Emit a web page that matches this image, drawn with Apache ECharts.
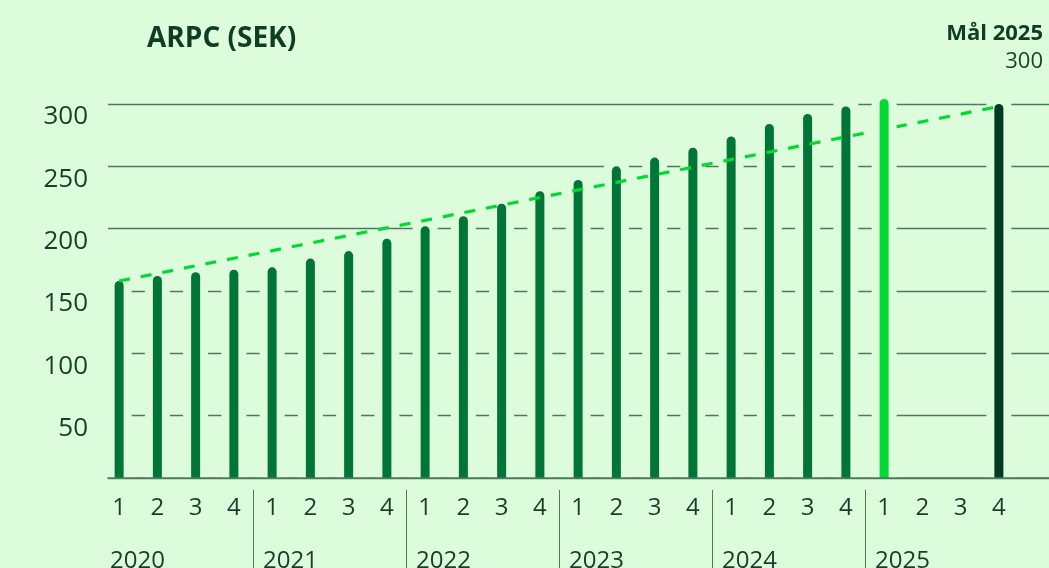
<!DOCTYPE html>
<html>
<head>
<meta charset="utf-8">
<script src="https://cdn.jsdelivr.net/npm/echarts@6/dist/echarts.min.js"></script>
<style>
  html, body { margin: 0; padding: 0; background: #ddfcdc; }
  #main { width: 1049px; height: 568px; }
</style>
</head>
<body>
<div id="main"></div>
<script>
// quarterly ARPC in SEK, 2020 Q1 .. 2025 Q4
const quarters = ["1", "2", "3", "4", "1", "2", "3", "4", "1", "2", "3", "4",
  "1", "2", "3", "4", "1", "2", "3", "4", "1", "2", "3", "4"];
const years = ["2020", "2021", "2022", "2023", "2024", "2025"];
const arpc = [158, 162, 165, 167, 169, 176, 182, 192, 202, 210, 220, 230,
  239, 250, 257, 265, 274, 284, 292, 298, null, null, null, null];
const latest = [null, null, null, null, null, null, null, null, null, null, null, null,
  null, null, null, null, null, null, null, null, 304, null, null, null];
const target = [null, null, null, null, null, null, null, null, null, null, null, null,
  null, null, null, null, null, null, null, null, null, null, null, 300];
const trend = [[0, 158], [23, 298]];

const BG = "#ddfcdc";
const DARK = "#007535";
const BRIGHT = "#00da32";
const DEEP = "#003a20";
const TEXT = "#173f28";
const LINE = "#4d7a5c";
const FONT = "'Open Sans', sans-serif";
const HALO_PAD = 6; // halo reaches a bit above the bar top

const chart = echarts.init(document.getElementById("main"));

const bars = arpc.map((v, i) => (v != null ? v : target[i]));
const pad = (arr) => arr.map((v) => (v == null ? null : v + HALO_PAD));

const barBase = {
  type: "bar",
  yAxisIndex: 1,
  barGap: "-100%",
  clip: false,
  silent: true,
};
const bar = Object.assign({}, barBase, { xAxisIndex: 1, barWidth: 9 });
const haloBar = Object.assign({}, barBase, {
  xAxisIndex: 3,
  barWidth: 25,
  itemStyle: { color: BG, borderRadius: [6, 6, 0, 0] },
});

const option = {
  backgroundColor: BG,
  animation: false,
  title: [
    {
      text: "ARPC (SEK)",
      left: 142,
      top: 20,
      textStyle: { fontFamily: FONT, fontSize: 28, fontWeight: "bold", color: "#0e3d23" },
    },
    {
      text: "Mål 2025",
      right: 1,
      top: 18,
      textStyle: { fontFamily: FONT, fontSize: 22, fontWeight: "bold", color: "#0e3d23" },
    },
    {
      text: "300",
      right: 1,
      top: 46,
      textStyle: { fontFamily: FONT, fontSize: 22, fontWeight: "normal", color: TEXT },
    },
  ],
  grid: [
    { left: 108, right: 0, top: 104, bottom: 90, outerBoundsMode: "none", containLabel: false },
    { left: 100, right: 31, top: 104, bottom: 90, outerBoundsMode: "none", containLabel: false },
  ],
  xAxis: [
    {
      gridIndex: 0,
      type: "value",
      min: 0,
      max: 1,
      z: 10,
      axisLine: { show: true, lineStyle: { color: LINE, width: 1.5 } },
      axisTick: { show: false },
      axisLabel: { show: false },
      splitLine: { show: false },
    },
    {
      gridIndex: 1,
      type: "category",
      data: quarters,
      axisLine: { show: false },
      axisTick: { show: false },
      axisLabel: { interval: 0, margin: 18, fontFamily: FONT, fontSize: 24, color: TEXT },
    },
    {
      gridIndex: 1,
      type: "value",
      position: "bottom",
      offset: 12,
      min: 0,
      max: 24,
      interval: 4,
      axisLine: { show: false },
      splitLine: { show: false },
      axisTick: {
        show: true,
        customValues: [4, 8, 12, 16, 20],
        length: 80,
        lineStyle: { color: LINE, width: 1 },
      },
      axisLabel: {
        customValues: [0, 4, 8, 12, 16, 20],
        formatter: (v) => years[v / 4],
        align: "left",
        padding: [0, 0, 0, 10],
        margin: 59,
        fontFamily: FONT,
        fontSize: 24,
        color: TEXT,
      },
    },
    {
      gridIndex: 1,
      type: "category",
      data: quarters,
      show: false,
    },
  ],
  yAxis: [
    {
      gridIndex: 0,
      type: "value",
      min: 0,
      max: 300,
      interval: 50,
      axisLine: { show: false },
      axisTick: { show: false },
      axisLabel: {
        margin: 20,
        fontFamily: FONT,
        fontSize: 26,
        color: TEXT,
        verticalAlign: "top",
        lineHeight: 26,
        formatter: (v) => (v === 0 ? "" : String(v)),
      },
      splitLine: { show: true, lineStyle: { color: LINE, width: 1.3 } },
    },
    {
      gridIndex: 1,
      type: "value",
      min: 0,
      max: 300,
      show: false,
      splitLine: { show: false },
    },
  ],
  series: [
    Object.assign({}, haloBar, { name: "halo", z: 2, data: pad(bars) }),
    Object.assign({}, bar, {
      name: "ARPC",
      z: 3,
      data: bars.map((v, i) => ({
        value: v,
        itemStyle: { color: target[i] != null ? DEEP : DARK },
      })),
      itemStyle: { borderRadius: [4.5, 4.5, 0, 0] },
    }),
    {
      name: "trend",
      type: "line",
      xAxisIndex: 1,
      yAxisIndex: 1,
      z: 4,
      data: trend,
      symbol: "none",
      silent: true,
      lineStyle: { color: BRIGHT, width: 3.2, type: [11, 11] },
    },
    Object.assign({}, haloBar, { name: "latest halo", z: 5, data: pad(latest) }),
    Object.assign({}, bar, {
      name: "latest",
      z: 6,
      data: latest,
      itemStyle: { color: BRIGHT, borderRadius: [4.5, 4.5, 0, 0] },
    }),
  ],
};

chart.setOption(option);
</script>
</body>
</html>
